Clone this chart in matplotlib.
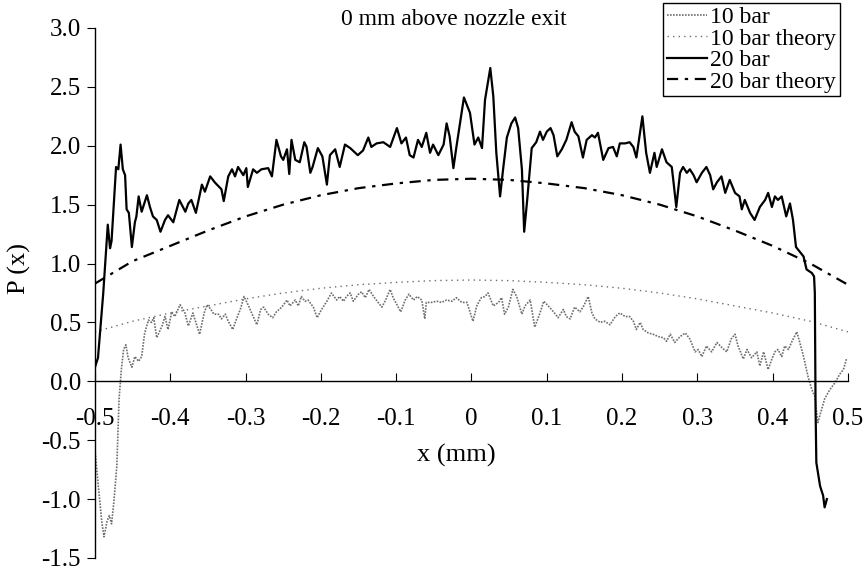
import matplotlib
matplotlib.use("Agg")
import matplotlib.pyplot as plt

plt.rcParams['font.family'] = ['Liberation Serif', 'DejaVu Serif']
plt.rcParams['axes.unicode_minus'] = False

# 10 bar, measured
x_10 = [-0.500, -0.496, -0.491, -0.488, -0.484, -0.481, -0.478, -0.475, -0.471, -0.468,
        -0.465, -0.462, -0.459, -0.456, -0.451, -0.447, -0.442, -0.438, -0.434, -0.429,
        -0.425, -0.422, -0.418, -0.411, -0.407, -0.403, -0.398, -0.394, -0.387, -0.381,
        -0.376, -0.370, -0.366, -0.361, -0.355, -0.351, -0.346, -0.342, -0.336, -0.332,
        -0.327, -0.323, -0.317, -0.312, -0.307, -0.302, -0.296, -0.292, -0.285, -0.280,
        -0.276, -0.270, -0.264, -0.259, -0.252, -0.245, -0.241, -0.234, -0.230, -0.226,
        -0.221, -0.217, -0.210, -0.205, -0.199, -0.192, -0.186, -0.179, -0.175, -0.170,
        -0.166, -0.161, -0.157, -0.150, -0.146, -0.141, -0.136, -0.130, -0.124, -0.119,
        -0.114, -0.108, -0.104, -0.099, -0.094, -0.088, -0.083, -0.077, -0.072, -0.066,
        -0.062, -0.060, -0.053, -0.046, -0.040, -0.033, -0.026, -0.020, -0.013, -0.006,
        0.002, 0.007, 0.013, 0.018, 0.022, 0.029, 0.036, 0.040, 0.044, 0.049,
        0.055, 0.060, 0.067, 0.071, 0.078, 0.084, 0.091, 0.096, 0.102, 0.109,
        0.115, 0.122, 0.126, 0.131, 0.137, 0.144, 0.149, 0.155, 0.160, 0.164,
        0.171, 0.177, 0.184, 0.191, 0.197, 0.204, 0.210, 0.215, 0.219, 0.224,
        0.228, 0.235, 0.241, 0.248, 0.255, 0.259, 0.264, 0.270, 0.277, 0.284,
        0.290, 0.297, 0.301, 0.306, 0.312, 0.319, 0.326, 0.332, 0.339, 0.345,
        0.350, 0.354, 0.361, 0.366, 0.372, 0.379, 0.383, 0.388, 0.394, 0.399,
        0.403, 0.407, 0.412, 0.416, 0.421, 0.425, 0.432, 0.436, 0.441, 0.447,
        0.452, 0.456, 0.460, 0.464, 0.469, 0.476, 0.483, 0.489, 0.494, 0.498]
p_10 = [-0.58, -0.86, -1.19, -1.32, -1.19, -1.14, -1.21, -1.03, -0.72, -0.15,
        0.10, 0.27, 0.31, 0.20, 0.12, 0.21, 0.17, 0.21, 0.41, 0.52,
        0.50, 0.54, 0.37, 0.47, 0.55, 0.44, 0.59, 0.55, 0.65, 0.59,
        0.47, 0.58, 0.50, 0.40, 0.58, 0.65, 0.61, 0.57, 0.57, 0.53,
        0.57, 0.51, 0.44, 0.53, 0.61, 0.72, 0.64, 0.58, 0.48, 0.61,
        0.63, 0.57, 0.54, 0.59, 0.63, 0.69, 0.64, 0.69, 0.64, 0.72,
        0.68, 0.69, 0.63, 0.54, 0.61, 0.68, 0.75, 0.69, 0.72, 0.68,
        0.72, 0.75, 0.68, 0.74, 0.76, 0.71, 0.78, 0.72, 0.67, 0.63,
        0.69, 0.78, 0.71, 0.65, 0.59, 0.69, 0.74, 0.69, 0.72, 0.69,
        0.53, 0.67, 0.67, 0.68, 0.67, 0.69, 0.68, 0.71, 0.67, 0.67,
        0.51, 0.64, 0.71, 0.72, 0.75, 0.64, 0.67, 0.71, 0.57, 0.63,
        0.78, 0.72, 0.57, 0.64, 0.69, 0.46, 0.58, 0.68, 0.64, 0.59,
        0.54, 0.61, 0.55, 0.53, 0.63, 0.59, 0.64, 0.72, 0.58, 0.53,
        0.50, 0.51, 0.48, 0.55, 0.58, 0.55, 0.55, 0.51, 0.44, 0.50,
        0.44, 0.41, 0.40, 0.38, 0.37, 0.34, 0.40, 0.33, 0.38, 0.41,
        0.36, 0.25, 0.27, 0.21, 0.30, 0.25, 0.33, 0.29, 0.25, 0.36,
        0.40, 0.30, 0.19, 0.27, 0.20, 0.25, 0.13, 0.25, 0.10, 0.19,
        0.25, 0.27, 0.21, 0.30, 0.27, 0.33, 0.42, 0.33, 0.21, 0.04,
        -0.07, -0.13, -0.35, -0.26, -0.15, -0.07, -0.01, 0.06, 0.10, 0.19]

# 20 bar, measured
x_20 = [-0.500, -0.496, -0.489, -0.483, -0.480, -0.478, -0.472, -0.469, -0.466, -0.463,
        -0.460, -0.458, -0.455, -0.451, -0.447, -0.445, -0.442, -0.438, -0.431, -0.427,
        -0.423, -0.418, -0.413, -0.407, -0.403, -0.396, -0.388, -0.380, -0.376, -0.372,
        -0.366, -0.358, -0.354, -0.347, -0.341, -0.332, -0.329, -0.323, -0.318, -0.314,
        -0.310, -0.303, -0.299, -0.297, -0.290, -0.285, -0.279, -0.270, -0.265, -0.259,
        -0.253, -0.250, -0.245, -0.242, -0.239, -0.234, -0.228, -0.222, -0.219, -0.214,
        -0.211, -0.204, -0.198, -0.192, -0.188, -0.181, -0.175, -0.168, -0.161, -0.151,
        -0.144, -0.137, -0.133, -0.126, -0.117, -0.108, -0.099, -0.093, -0.087, -0.082,
        -0.077, -0.071, -0.066, -0.060, -0.055, -0.051, -0.044, -0.037, -0.033, -0.029,
        -0.024, -0.020, -0.010, -0.002, 0.004, 0.009, 0.014, 0.018, 0.025, 0.029,
        0.033, 0.038, 0.042, 0.047, 0.053, 0.058, 0.062, 0.067, 0.070, 0.074,
        0.080, 0.086, 0.091, 0.095, 0.100, 0.105, 0.109, 0.114, 0.120, 0.126,
        0.133, 0.137, 0.142, 0.148, 0.153, 0.160, 0.164, 0.168, 0.175, 0.182,
        0.188, 0.193, 0.197, 0.204, 0.210, 0.215, 0.219, 0.227, 0.232, 0.237,
        0.243, 0.246, 0.253, 0.259, 0.266, 0.268, 0.272, 0.277, 0.281, 0.286,
        0.290, 0.295, 0.299, 0.306, 0.312, 0.317, 0.321, 0.326, 0.332, 0.337,
        0.343, 0.350, 0.356, 0.359, 0.363, 0.370, 0.376, 0.383, 0.390, 0.394,
        0.399, 0.403, 0.407, 0.412, 0.418, 0.423, 0.427, 0.431, 0.436, 0.441,
        0.445, 0.452, 0.455, 0.456, 0.457, 0.458, 0.463, 0.467, 0.469, 0.472]
p_20 = [0.12, 0.20, 0.75, 1.33, 1.13, 1.19, 1.82, 1.80, 2.01, 1.80,
        1.75, 1.46, 1.43, 1.14, 1.35, 1.40, 1.57, 1.44, 1.58, 1.48,
        1.40, 1.37, 1.27, 1.37, 1.41, 1.35, 1.54, 1.44, 1.51, 1.54,
        1.43, 1.67, 1.61, 1.74, 1.69, 1.63, 1.53, 1.74, 1.80, 1.74,
        1.82, 1.75, 1.81, 1.65, 1.80, 1.77, 1.80, 1.81, 1.74, 2.05,
        1.91, 1.88, 1.97, 1.76, 2.05, 1.88, 1.86, 2.03, 1.99, 1.77,
        1.82, 1.98, 1.91, 1.67, 1.92, 1.97, 1.82, 2.01, 1.98, 1.92,
        1.96, 2.07, 1.99, 2.02, 2.03, 1.99, 2.15, 2.02, 2.07, 1.92,
        1.90, 2.05, 1.99, 2.11, 1.94, 2.01, 1.92, 2.01, 2.19, 2.08,
        1.81, 1.99, 2.41, 2.28, 2.01, 2.07, 1.98, 2.39, 2.66, 2.42,
        1.94, 1.57, 1.80, 2.07, 2.19, 2.24, 2.15, 1.80, 1.27, 1.54,
        1.98, 2.03, 2.12, 2.05, 2.12, 2.15, 2.09, 1.91, 1.97, 2.05,
        2.20, 2.12, 2.08, 1.90, 2.05, 2.09, 2.07, 2.11, 1.88, 1.98,
        1.99, 1.91, 2.02, 2.02, 2.03, 1.99, 1.90, 2.25, 1.94, 1.77,
        1.94, 1.82, 1.97, 1.86, 1.82, 1.71, 1.48, 1.77, 1.82, 1.77,
        1.80, 1.75, 1.69, 1.77, 1.82, 1.75, 1.63, 1.69, 1.74, 1.60,
        1.71, 1.60, 1.57, 1.46, 1.54, 1.43, 1.37, 1.48, 1.54, 1.60,
        1.48, 1.57, 1.54, 1.57, 1.40, 1.51, 1.37, 1.14, 1.10, 1.06,
        0.95, 0.92, 0.89, 0.75, -0.24, -0.69, -0.89, -0.97, -1.07, -1.00]

# theory curves
x_th = [-0.50, -0.45, -0.40, -0.35, -0.30, -0.25, -0.20, -0.15, -0.10, -0.05, 0.00,
        0.05, 0.10, 0.15, 0.20, 0.25, 0.30, 0.35, 0.40, 0.45, 0.50]
p_10_th = [0.42, 0.51, 0.58, 0.64, 0.70, 0.75, 0.79, 0.82, 0.84, 0.855, 0.86,
           0.855, 0.84, 0.82, 0.79, 0.75, 0.70, 0.64, 0.58, 0.51, 0.42]
p_20_th = [0.83, 1.02, 1.15, 1.28, 1.40, 1.50, 1.58, 1.64, 1.68, 1.71, 1.72,
           1.71, 1.68, 1.64, 1.58, 1.50, 1.40, 1.28, 1.15, 1.00, 0.82]

fig = plt.figure(figsize=(8.65, 5.72), dpi=100)
ax = fig.add_axes([0.1098, 0.0245, 0.8705, 0.9266])

ax.plot(x_10, p_10, color='#6e6e6e', lw=1.2, linestyle=(0, (1, 0.8)), label='10 bar')
ax.plot(x_th, p_10_th, color='#6e6e6e', lw=1.0, linestyle=(0, (1, 3)), label='10 bar theory')
ax.plot(x_20, p_20, color='black', lw=1.6, label='20 bar')
ax.plot(x_th, p_20_th, color='black', lw=1.6, linestyle=(0, (5, 3, 1.5, 3)), label='20 bar theory')

ax.set_xlim(-0.5, 0.5)
ax.set_ylim(-1.5, 3.0)
ax.set_xticks([-0.5, -0.4, -0.3, -0.2, -0.1, 0, 0.1, 0.2, 0.3, 0.4, 0.5])
ax.set_xticklabels(['-0.5', '-0.4', '-0.3', '-0.2', '-0.1', '0', '0.1', '0.2', '0.3', '0.4', '0.5'])
ax.set_yticks([-1.5, -1.0, -0.5, 0.0, 0.5, 1.0, 1.5, 2.0, 2.5, 3.0])
ax.set_yticklabels(['-1.5', '-1.0', '-0.5', '0.0', '0.5', '1.0', '1.5', '2.0', '2.5', '3.0'])

ax.spines['top'].set_visible(False)
ax.spines['right'].set_visible(False)
ax.spines['bottom'].set_position(('data', 0))
ax.spines['bottom'].set_linewidth(1.0)
ax.spines['left'].set_linewidth(1.0)
ax.tick_params(axis='x', direction='in', length=6, pad=19, labelsize=18)
ax.tick_params(axis='y', direction='out', length=6, pad=4, labelsize=18)

fig.text(0.527, 0.203, 'x (mm)', ha='center', va='center', fontsize=19)
fig.text(0.022, 0.53, 'P (x)', ha='center', va='center', rotation=90, fontsize=19)
fig.text(0.525, 0.966, '0 mm above nozzle exit', ha='center', va='center', fontsize=17)

leg = ax.legend(loc='upper left', bbox_to_anchor=(663 / 865, 1 - 3 / 572),
                bbox_transform=fig.transFigure, fontsize=17, frameon=True,
                fancybox=False, framealpha=1, edgecolor='black', borderpad=0.15,
                labelspacing=0.0, handlelength=1.7, handletextpad=0.15, borderaxespad=0)
leg.get_frame().set_linewidth(1.0)

fig.savefig('out.png', dpi=100)
